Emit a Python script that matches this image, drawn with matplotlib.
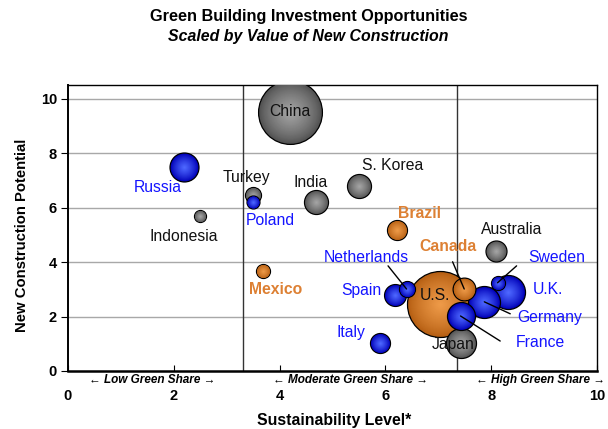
import numpy as np
import matplotlib
matplotlib.use('Agg')
import matplotlib.pyplot as plt
from matplotlib.transforms import blended_transform_factory

plt.rcParams['font.family'] = ['Liberation Sans', 'DejaVu Sans']

# Data
countries = ['China', 'U.S.', 'Russia', 'Turkey', 'Poland', 'Indonesia', 'India', 'S. Korea',
             'Brazil', 'Mexico', 'Australia', 'Netherlands', 'Spain', 'Canada', 'Sweden',
             'U.K.', 'Germany', 'France', 'Japan', 'Italy']
sustainability = [4.20, 7.04, 2.20, 3.50, 3.50, 2.50, 4.69, 5.51,
                  6.21, 3.69, 8.10, 6.40, 6.19, 7.49, 8.12,
                  8.31, 7.87, 7.42, 7.42, 5.90]
potential = [9.52, 2.46, 7.48, 6.47, 6.21, 5.70, 6.21, 6.80,
             5.18, 3.68, 4.41, 3.01, 2.79, 3.01, 3.24,
             2.90, 2.54, 2.02, 1.03, 1.03]
construction_value = [102, 109, 21, 6.4, 4.2, 3.6, 14.4, 14.4,
                      10, 4.9, 11, 6.4, 12, 13, 4.9,
                      29, 25.6, 19.6, 22.5, 10]
region = ['asia', 'americas', 'europe', 'asia', 'europe', 'asia', 'asia', 'asia',
          'americas', 'americas', 'asia', 'europe', 'europe', 'americas', 'europe',
          'europe', 'europe', 'europe', 'asia', 'europe']

# Layout of labels (data coords)
label_pos = {'China': (4.20, 9.52), 'U.S.': (6.94, 2.76), 'Russia': (1.70, 6.73),
             'Turkey': (3.37, 7.10), 'Poland': (3.82, 5.51), 'Indonesia': (2.19, 4.93),
             'India': (4.58, 6.91), 'S. Korea': (6.13, 7.54), 'Brazil': (6.64, 5.77),
             'Mexico': (3.92, 2.98), 'Australia': (8.38, 5.18), 'Netherlands': (5.64, 4.15),
             'Spain': (5.54, 2.94), 'Canada': (7.19, 4.56), 'Sweden': (9.23, 4.15),
             'U.K.': (9.08, 2.98), 'Germany': (9.10, 1.95), 'France': (8.93, 1.03),
             'Japan': (7.28, 0.96), 'Italy': (5.34, 1.43)}
leader_end = {'Canada': (7.27, 4.01), 'Netherlands': (6.05, 3.86), 'Sweden': (8.48, 3.86),
              'Germany': (8.36, 2.10), 'France': (8.17, 1.10)}
dividers = [3.3, 7.35]
share_labels = ['\u2190 Low Green Share \u2192', '\u2190 Moderate Green Share \u2192',
                '\u2190 High Green Share \u2192']
share_x = [1.59, 5.34, 8.93]

shades = {'asia': ((0.33, 0.33, 0.33), (0.64, 0.64, 0.64)),
          'europe': ((0.0, 0.0, 0.72), (0.30, 0.40, 1.0)),
          'americas': ((0.72, 0.38, 0.08), (0.93, 0.60, 0.28))}
text_col = {'asia': '#111111', 'europe': '#1414ff', 'americas': '#dd8033'}

fig = plt.figure(figsize=(6.08, 4.29), dpi=100)
ax = fig.add_axes([68/608, 1-371/429, 529/608, 286/429])
ax.set_xlim(0, 10)
ax.set_ylim(0, 10.5)

for yv in [2, 4, 6, 8, 10]:
    ax.axhline(yv, color='#a8a8a8', lw=1, zorder=1)
for xv in dividers:
    ax.axvline(xv, color='#333333', lw=1, zorder=1)

# bubbles, biggest first so small ones sit on top
order = np.argsort(construction_value)[::-1]
k = 20.7
fr = np.linspace(1.0, 0.06, 32)
for n, i in enumerate(order):
    s = construction_value[i] * k
    dark, light = shades[region[i]]
    z = 3 + n
    ax.scatter(sustainability[i], potential[i], s=s, color=dark, edgecolor='black',
               linewidth=0.9, zorder=z)
    for j, f in enumerate(fr[1:]):
        t = ((j + 1) / (len(fr) - 1)) ** 0.8
        c = tuple(d + (l - d) * t for d, l in zip(dark, light))
        ax.scatter(sustainability[i], potential[i], s=s * f**2 * 0.92, color=c,
                   linewidth=0, zorder=z + 0.01 * (j + 1))

for i, c in enumerate(countries):
    bold = region[i] == 'americas' and c != 'U.S.'
    col = '#111111' if c == 'U.S.' else text_col[region[i]]
    lx, ly = label_pos[c]
    ax.text(lx, ly, c, ha='center', va='center', fontsize=11.3, color=col,
            fontweight='bold' if bold else 'normal', zorder=60)
    if c in leader_end:
        ax.annotate('', xy=leader_end[c], xytext=(sustainability[i], potential[i]),
                    arrowprops=dict(arrowstyle='-', color='black', lw=1,
                                    shrinkA=0, shrinkB=0), zorder=55)

tr = blended_transform_factory(ax.transData, ax.transAxes)
for lab, xv in zip(share_labels, share_x):
    ax.text(xv, -0.031, lab, transform=tr, ha='center', va='center', fontsize=8.5,
            fontweight='bold', fontstyle='italic', clip_on=False,
            family=['DejaVu Sans'] if False else ['Liberation Sans', 'DejaVu Sans'])

ax.set_xticks([0, 2, 4, 6, 8, 10])
ax.set_yticks([0, 2, 4, 6, 8, 10])
ax.tick_params(axis='x', direction='in', length=4, pad=13, labelsize=10.5)
ax.tick_params(axis='y', direction='out', length=5, pad=3, labelsize=10.5)
for lab in ax.get_xticklabels() + ax.get_yticklabels():
    lab.set_fontweight('bold')
for sp in ax.spines.values():
    sp.set_linewidth(1.0)
ax.spines['bottom'].set_linewidth(1.8)
ax.spines['left'].set_linewidth(1.4)

fig.text(0.507, 1-17/429, 'Green Building Investment Opportunities', ha='center', va='center',
         fontsize=11.7, fontweight='bold')
fig.text(0.507, 1-36/429, 'Scaled by Value of New Construction', ha='center', va='center',
         fontsize=11.4, fontweight='bold', fontstyle='italic')
fig.text(334/608, 1-420/429, 'Sustainability Level*', ha='center', va='center',
         fontsize=11.4, fontweight='bold')
fig.text(22/608, 1-235/429, 'New Construction Potential', ha='center', va='center',
         fontsize=10.7, fontweight='bold', rotation=90)

fig.savefig('out.png', dpi=100)
